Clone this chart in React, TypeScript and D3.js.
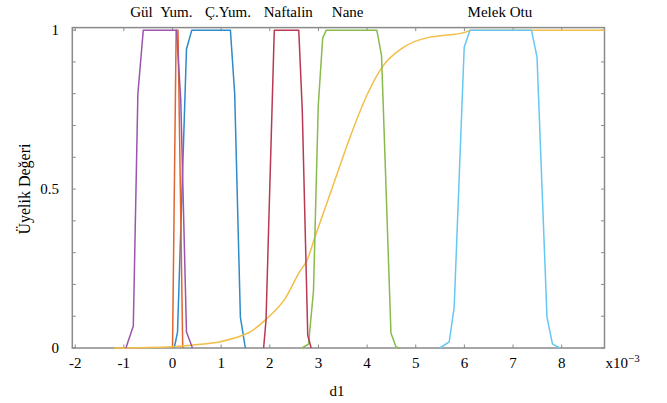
import React from 'react';
import * as d3 from 'd3';

const W = 667;
const H = 403;

// tick values / labels
const xTickValues = [-2, -1, 0, 1, 2, 3, 4, 5, 6, 7, 8];
const yTickValues = [0, 0.1, 0.2, 0.3, 0.4, 0.5, 0.6, 0.7, 0.8, 0.9, 1];
const yTickLabels = [0, 0.5, 1];

// category annotations (x in d1 units x10^-3)
const categories = ['Gül', 'Yum.', 'Ç.Yum.', 'Naftalin', 'Nane', 'Melek Otu'];
const categoryX = [-0.64, 0.08, 1.14, 2.38, 3.6, 6.73];

// membership functions (x in units of 1e-3)
const cyumX = [0.035, 0.103, 0.287, 0.396, 1.19, 1.278, 1.395, 1.497];
const cyumY = [0, 0.05, 0.94, 1, 1, 0.8, 0.097, 0];

const yumX = [0, 0.075, 0.113, 0.21];
const yumY = [0, 1, 1, 0];

const sigX = [-1.2, 0, 0.47, 0.985, 1.44, 1.6, 1.92, 2.3, 2.63, 2.76, 2.93, 3.32, 3.67, 4.01, 4.32, 4.73, 5.29, 5.5, 6.01, 6.15, 8.88];
const sigY = [0, 0.004, 0.01, 0.02, 0.04, 0.051, 0.09, 0.152, 0.244, 0.274, 0.35, 0.52, 0.672, 0.8, 0.886, 0.944, 0.978, 0.982, 0.993, 1, 1];

const gulX = [-0.958, -0.806, -0.712, -0.601, 0.082, 0.17, 0.287, 0.41];
const gulY = [0, 0.069, 0.8, 1, 1, 0.779, 0.05, 0];

const naneX = [2.66, 2.796, 2.898, 2.995, 3.087, 3.16, 4.2, 4.297, 4.49, 4.595, 4.677];
const naneY = [0, 0.0125, 0.18, 0.76, 0.975, 1, 1, 0.92, 0.047, 0.003, 0];

const melekX = [5.497, 5.688, 5.79, 5.996, 6.113, 7.378, 7.493, 7.698, 7.81, 7.96];
const melekY = [0, 0.019, 0.128, 0.946, 1, 1, 0.915, 0.097, 0.013, 0];

const naftX = [1.873, 1.922, 2.092, 2.595, 2.667, 2.78, 2.85];
const naftY = [0, 0.0875, 1, 1, 0.75, 0.04, 0];

const seriesList = [
  { xs: cyumX, ys: cyumY, color: '#2F8ACB', smooth: false },
  { xs: yumX, ys: yumY, color: '#E0652E', smooth: false },
  { xs: sigX, ys: sigY, color: '#F2BE48', smooth: true },
  { xs: gulX, ys: gulY, color: '#9A55AE', smooth: false },
  { xs: naneX, ys: naneY, color: '#88BA4C', smooth: false },
  { xs: melekX, ys: melekY, color: '#66C8F0', smooth: false },
  { xs: naftX, ys: naftY, color: '#B83A52', smooth: false },
];

const PLOT = { left: 72.3, right: 604.5, top: 27.6, bottom: 348 };

export default function App() {
  const x = d3.scaleLinear().domain([-2.06, 8.88]).range([PLOT.left, PLOT.right]);
  const y = d3.scaleLinear().domain([0, 1.008]).range([PLOT.bottom, PLOT.top]);
  const axisColor = '#8a8a8a';
  const font = '"Liberation Serif", "Times New Roman", serif';

  const makePath = (xs: number[], ys: number[], smooth: boolean) => {
    const pts: [number, number][] = xs.map((v, i) => [v, ys[i]]);
    const line = d3
      .line<[number, number]>()
      .x((d) => x(d[0]))
      .y((d) => y(d[1]));
    if (smooth) line.curve(d3.curveMonotoneX);
    return line(pts) || '';
  };

  return (
    <svg
      width={W}
      height={H}
      style={{ position: 'absolute', left: 0, top: 0, fontFamily: font }}
    >
      <rect x={0} y={0} width={W} height={H} fill="#ffffff" />
      {/* frame */}
      <rect
        x={PLOT.left}
        y={PLOT.top}
        width={PLOT.right - PLOT.left}
        height={PLOT.bottom - PLOT.top}
        fill="none"
        stroke={axisColor}
        strokeWidth={1.5}
      />
      {/* x ticks top and bottom */}
      {xTickValues.map((v) => (
        <g key={'xt' + v}>
          <line x1={x(v)} x2={x(v)} y1={PLOT.bottom} y2={PLOT.bottom - 3.5} stroke={axisColor} strokeWidth={1} />
          <line x1={x(v)} x2={x(v)} y1={PLOT.top} y2={PLOT.top + 3.5} stroke={axisColor} strokeWidth={1} />
        </g>
      ))}
      {/* y ticks left and right */}
      {yTickValues.map((v) => (
        <g key={'yt' + v}>
          <line x1={PLOT.left} x2={PLOT.left + 3.5} y1={y(v)} y2={y(v)} stroke={axisColor} strokeWidth={1} />
          <line x1={PLOT.right} x2={PLOT.right - 3.5} y1={y(v)} y2={y(v)} stroke={axisColor} strokeWidth={1} />
        </g>
      ))}
      {/* series */}
      {seriesList.map((s, i) => (
        <path
          key={'s' + i}
          d={makePath(s.xs, s.ys, s.smooth)}
          fill="none"
          stroke={s.color}
          strokeWidth={1.5}
          strokeLinejoin="round"
        />
      ))}
      {/* x tick labels */}
      {xTickValues.map((v) => (
        <text key={'xl' + v} x={x(v)} y={368} textAnchor="middle" fontSize={15} fill="#000">
          {v}
        </text>
      ))}
      <text x={PLOT.right + 1} y={368} fontSize={15} fill="#000">
        x10
        <tspan dy={-6} fontSize={11}>
          −3
        </tspan>
      </text>
      {/* y tick labels */}
      {yTickLabels.map((v) => (
        <text key={'yl' + v} x={59} y={y(v)} dy="0.35em" textAnchor="end" fontSize={15} fill="#000">
          {v}
        </text>
      ))}
      {/* axis titles */}
      <text x={337} y={396} textAnchor="middle" fontSize={15} fill="#000">
        d1
      </text>
      <text
        transform={`translate(30, ${y(0.5)}) rotate(-90)`}
        textAnchor="middle"
        fontSize={16}
        fill="#000"
      >
        Üyelik Değeri
      </text>
      {/* category labels */}
      {categories.map((c, i) => (
        <text key={'c' + i} x={x(categoryX[i])} y={17} textAnchor="middle" fontSize={15} fill="#000">
          {c}
        </text>
      ))}
    </svg>
  );
}
